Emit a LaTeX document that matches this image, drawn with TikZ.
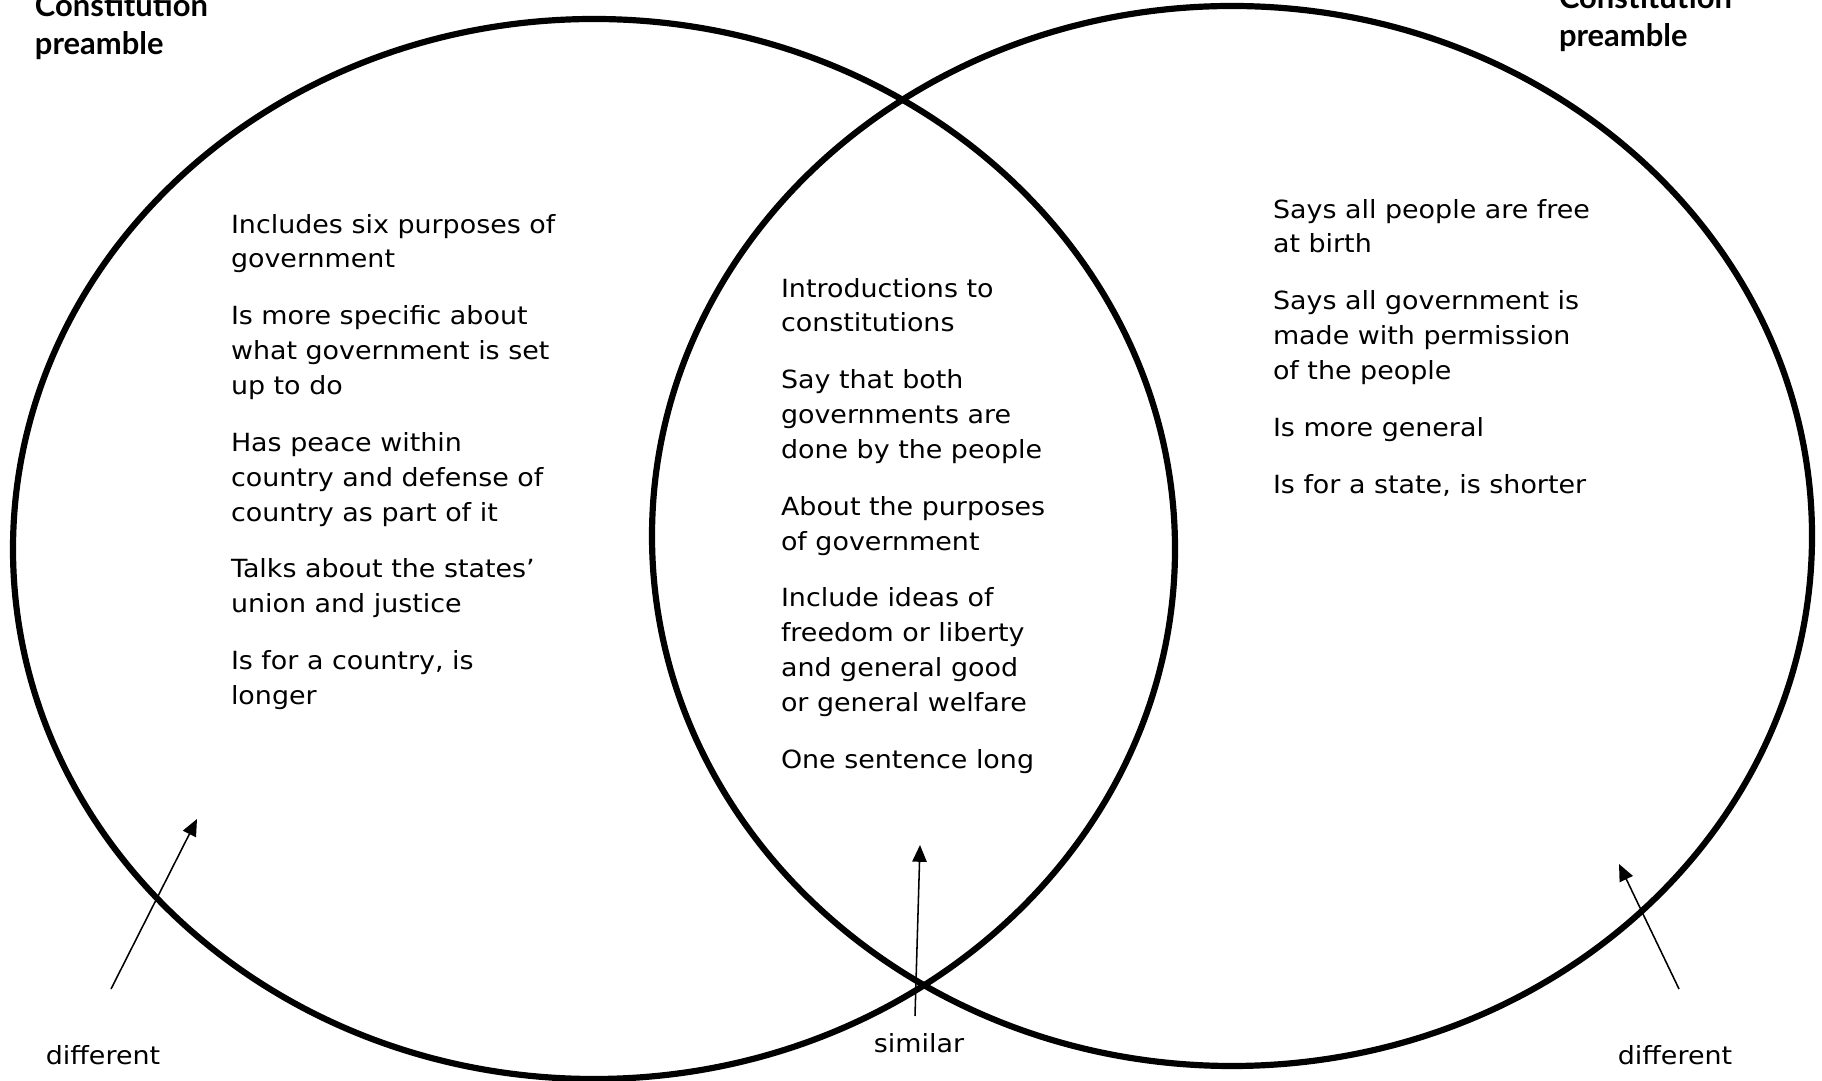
\documentclass[tikz,border=0pt]{standalone}
\usepackage{fontspec}
\setmainfont{DejaVu Sans}[FakeStretch=1.075]
\newfontfamily\titlefont{Lato}
\usetikzlibrary{arrows.meta,positioning}

\begin{document}
\begin{tikzpicture}[x=0.0125cm, y=-0.0125cm, >={Triangle[length=0.21cm,width=0.18cm]}]
\tikzstyle{every node}=[inner sep=0pt, outer sep=0pt]
\tikzstyle{ring}=[line width=2.2pt]
\tikzstyle{facts}=[align=left, anchor=north west, font=\fontsize{8.9}{12.4}\selectfont]
\tikzstyle{heading}=[align=left, anchor=north west, font=\titlefont\bfseries\fontsize{11}{13.5}\selectfont]
\tikzstyle{tag}=[font=\fontsize{8.9}{12.4}\selectfont]
\tikzstyle{pointer}=[->, line width=0.55pt]
\useasboundingbox (0,0) rectangle (1822,1081);

% the two rings
\draw[ring] (594,549) ellipse [x radius=581, y radius=530];
\draw[ring] (1232,536) ellipse [x radius=580, y radius=530];

% headings
\node[heading] (usa) at (35,-6) {Constitution\\preamble};
\node[heading] (state) at (1559,-14) {Constitution\\preamble};

% lists
\node[facts] (left) at (231,214) {Includes six purposes of\\government\\[7.8pt]
Is more specific about\\what government is set\\up to do\\[7.8pt]
Has peace within\\country and defense of\\country as part of it\\[7.8pt]
Talks about the states’\\union and justice\\[7.8pt]
Is for a country, is\\longer};
\node[facts] (both) at (781,278) {Introductions to\\constitutions\\[7.8pt]
Say that both\\governments are\\done by the people\\[7.8pt]
About the purposes\\of government\\[7.8pt]
Include ideas of\\freedom or liberty\\and general good\\or general welfare\\[7.8pt]
One sentence long};
\node[facts] (right) at (1273,199) {Says all people are free\\at birth\\[7.8pt]
Says all government is\\made with permission\\of the people\\[7.8pt]
Is more general\\[7.8pt]
Is for a state, is shorter};

% labels and pointers
\node[tag] (diff1) at (103,1055) {different};
\node[tag] (same) at (919,1043) {similar};
\node[tag] (diff2) at (1675,1055) {different};
\coordinate (a1) at (111,989);
\coordinate (b1) at (197,819);
\coordinate (a2) at (915,1016);
\coordinate (b2) at (920,845);
\coordinate (a3) at (1679,989);
\coordinate (b3) at (1619,864);
\draw[pointer] (a1) -- (b1);
\draw[pointer] (a2) -- (b2);
\draw[pointer] (a3) -- (b3);
\end{tikzpicture}
\end{document}
